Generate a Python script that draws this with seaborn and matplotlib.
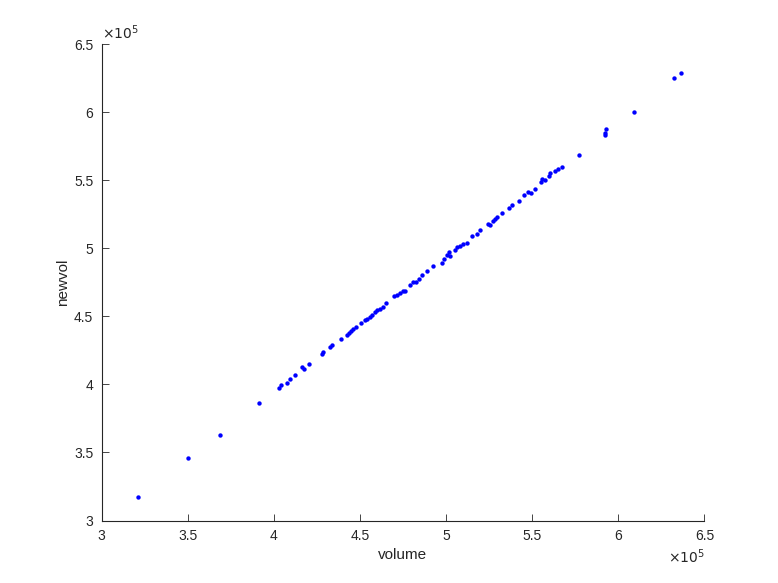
"""Scatter of volume vs newvol, MATLAB-like look."""

import matplotlib

matplotlib.use("Agg")
import matplotlib.pyplot as plt
import pandas as pd
import seaborn as sns
from matplotlib.ticker import FuncFormatter, FixedLocator

AXIS_COLOR = "#262626"
DOT_COLOR = "#0000FF"

volume = [
    321200, 350000, 368600, 391200,
    403200, 404200, 407500, 409400, 412100, 416400, 417400, 420400, 428000,
    428700, 432800, 433600, 438800, 442300, 443500, 445000, 446100, 447700,
    450400, 453100, 453900, 455800, 457000, 458500, 460100, 461600, 463200,
    465100, 469800, 471700, 473200, 474800, 476300, 479000, 480600, 482500,
    484100,
    485800, 488700, 492600, 497600, 498800, 500300, 501500, 502300, 505000,
    506500, 508100, 510000, 512000, 515000, 517800, 519700, 524300, 525500,
    527000, 528600, 529700, 532400, 536700, 538200, 542100, 545200, 547500,
    549400, 551800, 554900, 555700, 557600, 559900, 560300, 563000, 564900,
    567100, 577100, 592000, 592000, 593000, 609100, 632100, 636200,
]
newvol = [
    317000, 346100, 363000, 386600,
    397600, 399800, 400800, 404200, 406700, 412600, 411500, 415000, 422300,
    423800, 427700, 429200, 433600, 436500, 437500, 439000, 440500, 442400,
    444900, 447300, 447800, 449700, 451200, 453200, 454700, 455600, 457100,
    459600, 465000, 465900, 467400, 468800, 468800, 473300, 475200, 475200,
    477700,
    480400, 483500, 487000, 489400, 492400, 494900, 497300, 494300, 498700,
    500700, 501700, 503200, 504100, 509000, 510500, 513400, 517900, 516900,
    519800, 521300, 522800, 525700, 529600, 531600, 534500, 538900, 541400,
    540900, 543800, 548700, 551100, 550200, 553100, 555100, 556600, 558500,
    559500, 568300, 584500, 583000, 587400, 600400, 625100, 629000,
]

df = pd.DataFrame({"volume": volume, "newvol": newvol})

sns.set_style("ticks")
plt.rcParams["font.family"] = ["Liberation Sans", "DejaVu Sans"]

fig = plt.figure(figsize=(7.78, 5.83), dpi=100)
ax = fig.add_axes([0.1305, 0.1072, 0.7750, 0.8173])

sns.scatterplot(data=df, x="volume", y="newvol", ax=ax, color=DOT_COLOR,
                s=10, linewidth=0, marker="o")

ax.set_xlim(300000, 650000)
ax.set_ylim(300000, 650000)
ticks = [300000, 350000, 400000, 450000, 500000, 550000, 600000, 650000]
ax.xaxis.set_major_locator(FixedLocator(ticks))
ax.yaxis.set_major_locator(FixedLocator(ticks))
fmt = FuncFormatter(lambda v, _: f"{v / 1e5:g}")
ax.xaxis.set_major_formatter(fmt)
ax.yaxis.set_major_formatter(fmt)

ax.tick_params(direction="in", length=5, width=0.6, colors=AXIS_COLOR,
               labelsize=10, pad=6)
for side in ["top", "right"]:
    ax.spines[side].set_visible(False)
for side in ["left", "bottom"]:
    ax.spines[side].set_color(AXIS_COLOR)
    ax.spines[side].set_linewidth(0.8)

ax.set_xlabel("volume", fontsize=11, color=AXIS_COLOR, labelpad=4)
ax.set_ylabel("newvol", fontsize=11, color=AXIS_COLOR, labelpad=3)

ax.text(0.0, 1.004, r"$\times 10^{5}$", transform=ax.transAxes, ha="left",
        va="bottom", fontsize=10, color=AXIS_COLOR,
        math_fontfamily="dejavusans")
ax.text(1.0, -0.076, r"$\times 10^{5}$", transform=ax.transAxes, ha="right",
        va="center", fontsize=10, color=AXIS_COLOR,
        math_fontfamily="dejavusans")

fig.savefig("out.png", dpi=100, facecolor="white")
